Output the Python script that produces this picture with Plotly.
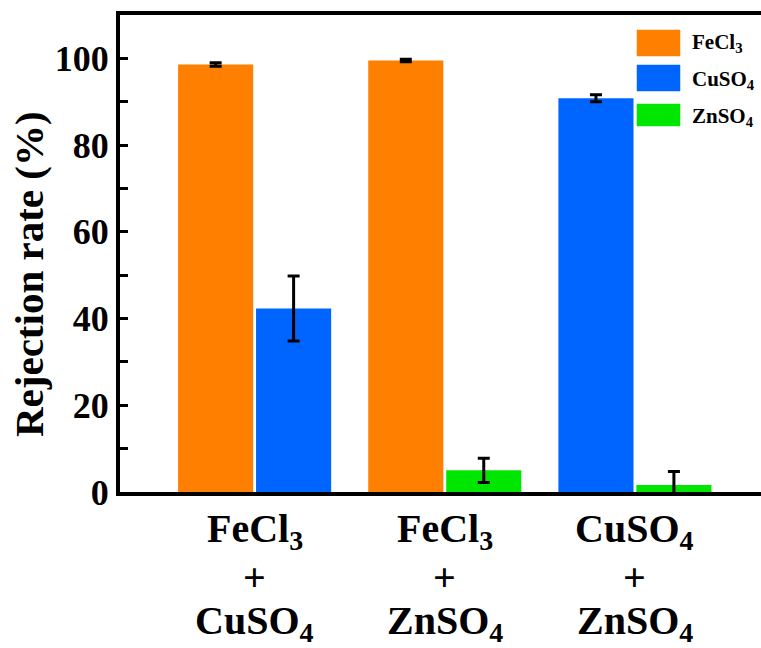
import plotly.graph_objects as go

# ---- data ----
groups = ["FeCl<sub>3</sub>|+|CuSO<sub>4</sub>",
          "FeCl<sub>3</sub>|+|ZnSO<sub>4</sub>",
          "CuSO<sub>4</sub>|+|ZnSO<sub>4</sub>"]
series_names = ["FeCl<sub>3</sub>", "CuSO<sub>4</sub>", "ZnSO<sub>4</sub>"]
colors = ["#FF8000", "#0064FF", "#00E600"]

# group index, side (-1 left, +1 right), value, error
fecl3_group = [0, 1]
fecl3_side = [-1, -1]
fecl3_val = [98.6, 99.5]
fecl3_err = [0.4, 0.3]

cuso4_group = [0, 2]
cuso4_side = [1, -1]
cuso4_val = [42.3, 90.8]
cuso4_err = [7.5, 0.8]

znso4_group = [1, 2]
znso4_side = [1, 1]
znso4_val = [5.0, 1.6]
znso4_err = [2.8, 3.1]

y_ticks = [0, 20, 40, 60, 80, 100]

# ---- layout constants ----
W, H = 761, 648
L, R, T, B = 120, 0, 15, 156
BAR_W = 0.395
OFF = 0.205
FONT = "Liberation Serif"

def px2paper_x(px):
    return (px - L) / (W - L - R)

def px2paper_y(py):
    return (H - B - py) / (H - B - T)

fig = go.Figure()
series = [(fecl3_group, fecl3_side, fecl3_val, fecl3_err),
          (cuso4_group, cuso4_side, cuso4_val, cuso4_err),
          (znso4_group, znso4_side, znso4_val, znso4_err)]
for (g, s, v, e), name, c in zip(series, series_names, colors):
    fig.add_trace(go.Bar(
        x=[gi + si * OFF for gi, si in zip(g, s)],
        y=v, width=BAR_W, name=name,
        marker=dict(color=c, line=dict(width=0)),
        error_y=dict(type="data", array=e, visible=True,
                     color="black", thickness=3, width=6),
        showlegend=False,
    ))

# legend drawn as boxes + text
leg_boxes = [(30, 56), (65, 91), (104, 126)]
leg_text_y = [43, 80, 117]
for (t, b), ty, name, c in zip(leg_boxes, leg_text_y, series_names, colors):
    fig.add_shape(type="rect", xref="paper", yref="paper",
                  x0=px2paper_x(637), x1=px2paper_x(680),
                  y0=px2paper_y(b), y1=px2paper_y(t),
                  fillcolor=c, line=dict(width=0.5, color=c))
    fig.add_annotation(xref="paper", yref="paper", x=px2paper_x(690),
                       y=px2paper_y(ty), xanchor="left", yanchor="middle",
                       text="<b>%s</b>" % name, showarrow=False,
                       font=dict(family=FONT, size=21, color="black"))

# x category labels (three lines each)
line_y = [531, 577, 623]
for i, g in enumerate(groups):
    for part, ly in zip(g.split("|"), line_y):
        fig.add_annotation(xref="x", yref="paper", x=i, y=px2paper_y(ly),
                           xanchor="center", yanchor="middle",
                           text="<b>%s</b>" % part, showarrow=False,
                           font=dict(family=FONT, size=40, color="black"))

# y-axis title
fig.add_annotation(xref="paper", yref="paper", x=px2paper_x(29),
                   y=px2paper_y(274), textangle=-90,
                   xanchor="center", yanchor="middle",
                   text="<b>Rejection rate (%)</b>", showarrow=False,
                   font=dict(family=FONT, size=41, color="black"))

fig.update_layout(
    width=W, height=H,
    margin=dict(l=L, r=R, t=T, b=B),
    plot_bgcolor="white", paper_bgcolor="white",
    barmode="overlay",
    xaxis=dict(range=[-0.708, 2.663], showticklabels=False, ticks="",
               showgrid=False, zeroline=False, showline=True,
               linecolor="black", linewidth=4, mirror=True),
    yaxis=dict(range=[0, 110], tickvals=y_ticks,
               ticktext=["<b>%d</b>" % v for v in y_ticks],
               tickfont=dict(family=FONT, size=36, color="black"),
               ticks="inside", ticklen=8, tickwidth=3, tickcolor="black",
               minor=dict(dtick=10, ticks="inside", ticklen=8, tickwidth=3,
                          tickcolor="black", showgrid=False),
               showgrid=False, zeroline=False, showline=True,
               linecolor="black", linewidth=4, mirror=False),
)

fig.write_html("out.html")
